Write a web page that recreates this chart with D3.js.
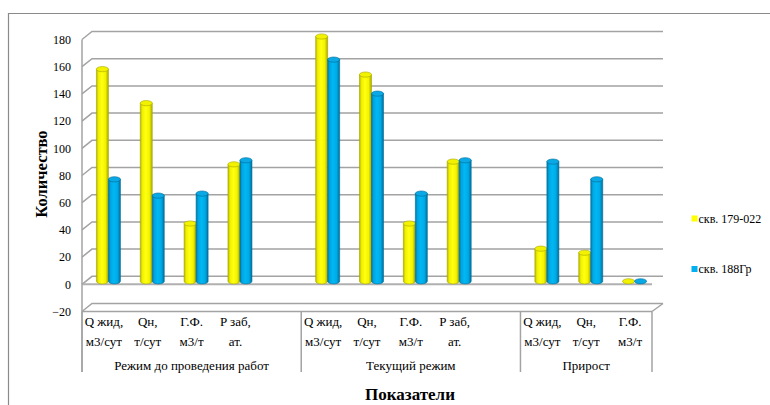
<!DOCTYPE html>
<html>
<head>
<meta charset="utf-8">
<script src="https://cdn.jsdelivr.net/npm/d3@7"></script>
<style>
  body { margin: 0; background: #fff; }
  svg { display: block; }
</style>
</head>
<body>
<svg id="chart" width="770" height="405"></svg>
<script>
// Category slots: each group ends with an empty spacer slot (except the last one)
const groupNames = ["Режим до проведения работ", "Текущий режим", "Прирост"];
const categoryGroup = [0, 0, 0, 0, 0, 1, 1, 1, 1, 1, 2, 2, 2];
const categoryTop = ["Q жид,", "Qн,", "Г.Ф.", "P заб,", "", "Q жид,", "Qн,", "Г.Ф.", "P заб,", "", "Q жид,", "Qн,", "Г.Ф."];
const categoryBottom = ["м3/сут", "т/сут", "м3/т", "ат.", "", "м3/сут", "т/сут", "м3/т", "ат.", "", "м3/сут", "т/сут", "м3/т"];

const seriesNames = ["скв. 179-022", "скв. 188Гр"];
const well179 = [156, 131, 42.5, 86, null, 180, 152, 42.5, 88, null, 24, 21, 0];
const well188 = [75, 63, 64.5, 89, null, 163, 138, 64.5, 89, null, 88, 75, 0];

const yTicks = [-20, 0, 20, 40, 60, 80, 100, 120, 140, 160, 180];

const FONT = "'Liberation Serif', 'Times New Roman', serif";
const svg = d3.select("#chart");
const defs = svg.append("defs");

// Perspective offsets of the back wall and of the bar row
const wallDX = 10, wallDY = -8;
const barDX = 4.5, barDY = -3;

const x = d3.scaleBand().domain(d3.range(categoryTop.length)).range([82, 652]).padding(0);
const y = d3.scaleLinear().domain([-20, 180]).range([311.5, 39.5]);
const barW = 12;
const sub = d3.scaleBand().domain([0, 1]).range([-barW, barW]);

const gridColor = "#a3a3a3";

// Outer chart frame
svg.append("path")
  .attr("d", "M8.5,405 L8.5,13.5 L770,13.5")
  .attr("fill", "none").attr("stroke", "#8a8a8a").attr("stroke-width", 1.2);

// Side wall diagonals + back wall gridlines
const grid = svg.append("g");
yTicks.forEach(t => {
  const yf = y(t);
  grid.append("path")
    .attr("d", `M82,${yf} L${82 + wallDX},${yf + wallDY} L${652 + wallDX + 1},${yf + wallDY}`)
    .attr("fill", "none").attr("stroke", gridColor).attr("stroke-width", 1.5);
});
// Right diagonal at the bottom level
grid.append("line")
  .attr("x1", 652).attr("y1", y(-20)).attr("x2", 652 + wallDX + 1).attr("y2", y(-20) + wallDY)
  .attr("stroke", gridColor).attr("stroke-width", 1.5);
// Floor front edge at zero
grid.append("line")
  .attr("x1", 82).attr("x2", 652).attr("y1", y(0)).attr("y2", y(0))
  .attr("stroke", "#b0b0b0").attr("stroke-width", 2);

// Value axis
const yAxis = d3.axisLeft(y).tickValues(yTicks).tickSize(0).tickPadding(11).tickFormat(d3.format("d"));
const yg = svg.append("g").attr("transform", "translate(82,0)").call(yAxis);
yg.attr("font-family", FONT);
yg.select(".domain").remove();
yg.selectAll("text").attr("font-size", 12).attr("fill", "#000").style("font-family", FONT);
svg.append("line").attr("x1", 82).attr("x2", 82).attr("y1", y(180)).attr("y2", 372)
  .attr("stroke", gridColor).attr("stroke-width", 1.5);

// Category axis line and group separators
svg.append("line").attr("x1", 82).attr("x2", 652).attr("y1", y(-20)).attr("y2", y(-20))
  .attr("stroke", gridColor).attr("stroke-width", 1.5);
const groupBounds = [];
groupNames.forEach((g, gi) => {
  const idx = categoryGroup.map((c, i) => c === gi ? i : -1).filter(i => i >= 0);
  groupBounds.push([x(idx[0]), x(idx[idx.length - 1]) + x.bandwidth()]);
});
const sepX = [82, ...groupBounds.map(b => b[1])];
sepX.forEach(sx => {
  svg.append("line").attr("x1", sx).attr("x2", sx).attr("y1", y(-20)).attr("y2", 372)
    .attr("stroke", gridColor).attr("stroke-width", 1.5);
});

// Category labels
const catG = svg.append("g").attr("font-size", 13).attr("fill", "#000").attr("text-anchor", "middle")
  .attr("font-family", FONT);
categoryTop.forEach((t, i) => {
  const cx = x(i) + x.bandwidth() / 2;
  catG.append("text").attr("x", cx).attr("y", 326).style("font-family", FONT).text(t);
  catG.append("text").attr("x", cx).attr("y", 346).style("font-family", FONT).text(categoryBottom[i]);
});
groupNames.forEach((g, gi) => {
  catG.append("text").attr("x", (groupBounds[gi][0] + groupBounds[gi][1]) / 2).attr("y", 369.5)
    .style("font-family", FONT).text(g);
});

// Cylinder gradients
function cylGrad(id, stops) {
  const lg = defs.append("linearGradient").attr("id", id).attr("x1", "0").attr("x2", "1").attr("y1", "0").attr("y2", "0");
  stops.forEach(s => lg.append("stop").attr("offset", s[0]).attr("stop-color", s[1]));
}
cylGrad("gY", [[0, "#b8b800"], [0.18, "#f0f000"], [0.45, "#ffff10"], [0.75, "#f4f400"], [1, "#a8a800"]]);
cylGrad("gB", [[0, "#0078a8"], [0.18, "#00a6e2"], [0.45, "#00b8f4"], [0.75, "#00aae6"], [1, "#006f9c"]]);
const series = [
  { name: seriesNames[0], values: well179, grad: "url(#gY)", top: "#f2f200", edge: "#a6a600", swatch: "#ffff00" },
  { name: seriesNames[1], values: well188, grad: "url(#gB)", top: "#0aa8e4", edge: "#006c98", swatch: "#00b0f0" }
];

const ry = 2.6;
const bars = svg.append("g");
series.forEach((s, si) => {
  s.values.forEach((v, i) => {
    if (v === null) return;
    const cx = x(i) + x.bandwidth() / 2 + barDX;
    const xl = cx + sub(si);
    const xr = xl + barW;
    const rx = barW / 2;
    const yBase = y(0) + barDY;
    const yTop = y(v) + barDY;
    const g = bars.append("g");
    if (yBase - yTop > 0.5) {
      g.append("path")
        .attr("d", `M${xl},${yTop} L${xl},${yBase} A${rx},${ry} 0 0 0 ${xr},${yBase} L${xr},${yTop} Z`)
        .attr("fill", s.grad).attr("stroke", s.edge).attr("stroke-width", 0.6);
    }
    g.append("ellipse")
      .attr("cx", xl + rx).attr("cy", yTop).attr("rx", rx).attr("ry", ry)
      .attr("fill", s.top).attr("stroke", s.edge).attr("stroke-width", 0.6);
  });
});

// Legend
const lg = svg.append("g").attr("font-size", 12).attr("font-family", FONT);
series.forEach((s, si) => {
  const ly = 218.5 + si * 50.5;
  lg.append("rect").attr("x", 691.5).attr("y", ly - 3).attr("width", 6).attr("height", 6).attr("fill", s.swatch);
  lg.append("text").attr("x", 698.5).attr("y", ly + 4).style("font-family", FONT).text(s.name);
});

// Axis titles
svg.append("text").attr("x", 410).attr("y", 399.5).attr("text-anchor", "middle").style("font-family", FONT)
  .attr("font-size", 17).attr("font-weight", "bold").text("Показатели");
svg.append("text").attr("transform", "translate(47,174) rotate(-90)").attr("text-anchor", "middle").style("font-family", FONT)
  .attr("font-size", 16.5).attr("font-weight", "bold").text("Количество");
</script>
</body>
</html>
